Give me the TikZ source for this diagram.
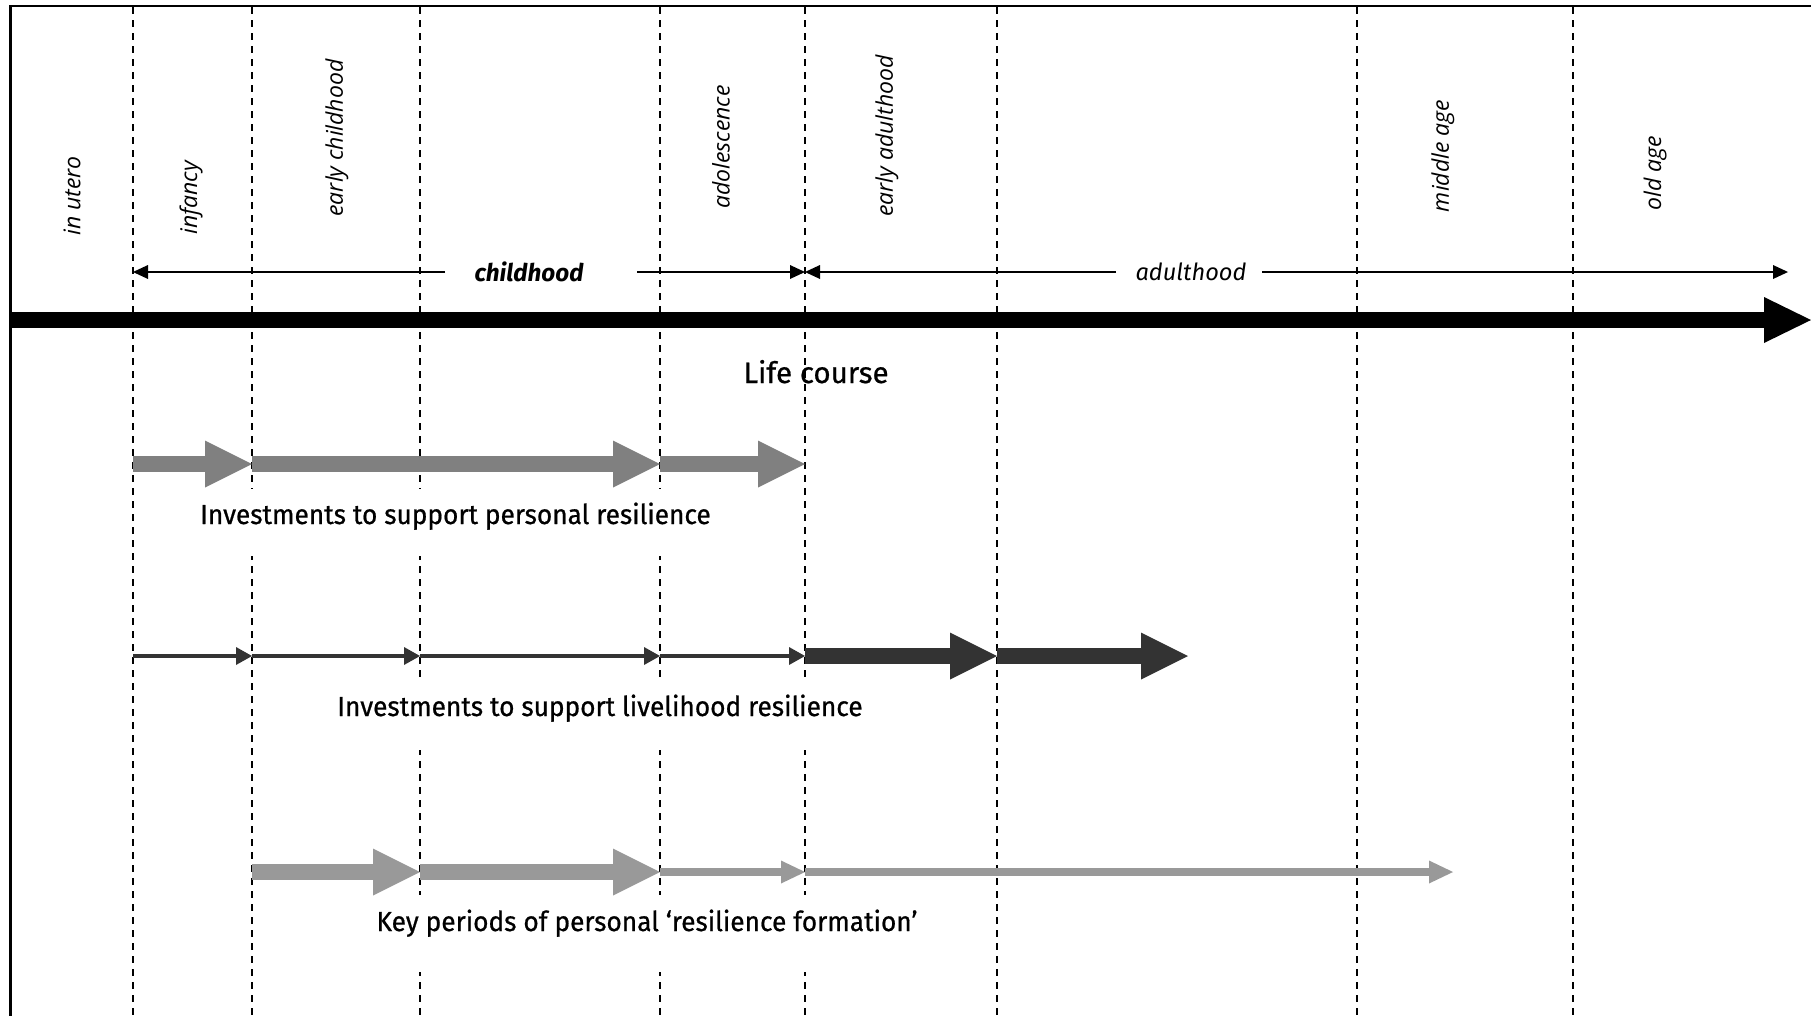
\documentclass[tikz,border=0pt]{standalone}
\usepackage{fontspec}
\setmainfont{Fira Sans}
\newfontfamily\agefont{Open Sans}
\newfontfamily\rowfont[FakeStretch=0.955,FakeBold=0.7]{Fira Sans}
\newfontfamily\lifefont[FakeBold=0.7]{Fira Sans}
\usetikzlibrary{arrows.meta}
\definecolor{cA}{HTML}{808080}
\definecolor{cB}{HTML}{333333}
\definecolor{cC}{HTML}{999999}
\begin{document}
\begin{tikzpicture}[x=1pt,y=-1pt,
  vline/.style={line width=2pt, dash pattern=on 7pt off 6pt},
  agelab/.style={rotate=90, inner sep=0pt, font=\agefont\itshape\fontsize{23}{28}\selectfont},
  spanlab/.style={inner sep=0pt, font=\itshape\fontsize{23.6}{29}\selectfont},
  childlab/.style={inner sep=0pt, font=\bfseries\itshape\fontsize{24.3}{29}\selectfont},
  rowlab/.style={inner sep=0pt, anchor=base, font=\rowfont\fontsize{27.5}{33}\selectfont},
  lifelab/.style={inner sep=0pt, anchor=base, font=\lifefont\fontsize{29.5}{35}\selectfont},
  spanarr/.style={line width=2pt, -{Triangle[length=15pt,width=14pt,line width=0pt]}},
  blk/.style={line width=16pt, -{Triangle[length=47pt,width=47pt,line width=0pt]}},
  thinarr/.style={line width=4.5pt, -{Triangle[length=16pt,width=18pt,line width=0pt]}},
  midarr/.style={line width=8.5pt, -{Triangle[length=24pt,width=23pt,line width=0pt]}},
  mainarr/.style={line width=16pt, -{Triangle[length=47pt,width=46pt,line width=0pt]}},
  mask/.style={fill=white}
]
\useasboundingbox (0,0) rectangle (1811,1015);
% frame
\draw[line width=2.6pt] (10.5,1016) -- (10.5,6) -- (1812,6);
% period boundaries
\foreach \n/\x in {1/133,2/252,3/420,4/660,5/805,6/997,7/1357,8/1573}{
  \coordinate (B\n) at (\x,7);
  \coordinate (E\n) at (\x,1016);
}
\foreach \n in {1,...,8}{\draw[vline] (B\n) -- (E\n);}
% white areas behind the row labels
\fill[mask] (190,489) rectangle (725,556);
\fill[mask] (330,679) rectangle (870,750);
\fill[mask] (365,895) rectangle (930,972);
% age labels
\node[agelab] (ut) at (72,196) {in utero};
\node[agelab] (inf) at (191,198) {infancy};
\node[agelab] (ech) at (337,138) {early childhood};
\node[agelab] (ado) at (721,147) {adolescence};
\node[agelab] (ead) at (887,136) {early adulthood};
\node[agelab] (mid) at (1443,156) {middle age};
\node[agelab] (old) at (1655,173) {old age};
% childhood / adulthood spans
\node[childlab] (child) at (529,272) {childhood};
\coordinate (c1) at (445,272);
\coordinate (c2) at (637,272);
\draw[spanarr] (c1) -- (B1|-c1);
\draw[spanarr] (c2) -- (B5|-c2);
\node[spanlab] (adult) at (1191,272) {adulthood};
\coordinate (a1) at (1116,272);
\coordinate (a2) at (1262,272);
\coordinate (a3) at (1788,272);
\draw[spanarr] (a1) -- (B5|-a1);
\draw[spanarr] (a2) -- (a3);
% life course arrow
\coordinate (L0) at (10,320);
\coordinate (L1) at (1811,320);
\draw[mainarr] (L0) -- (L1);
\node[lifelab] (life) at (816,383) {Life course};
% rows
\coordinate (R1) at (0,464);
\coordinate (R2) at (0,656);
\coordinate (R3) at (0,872);
\coordinate (T2) at (1188,656);
\coordinate (T3) at (1453,872);
% row 1
\draw[blk,cA] (B1|-R1) -- (B2|-R1);
\draw[blk,cA] (B2|-R1) -- (B4|-R1);
\draw[blk,cA] (B4|-R1) -- (B5|-R1);
\node[rowlab] (lab1) at (455.5,524) {Investments to support personal resilience};
% row 2
\draw[thinarr,cB] (B1|-R2) -- (B2|-R2);
\draw[thinarr,cB] (B2|-R2) -- (B3|-R2);
\draw[thinarr,cB] (B3|-R2) -- (B4|-R2);
\draw[thinarr,cB] (B4|-R2) -- (B5|-R2);
\draw[blk,cB] (B5|-R2) -- (B6|-R2);
\draw[blk,cB] (B6|-R2) -- (T2);
\node[rowlab] (lab2) at (600,716) {Investments to support livelihood resilience};
% row 3
\draw[blk,cC] (B2|-R3) -- (B3|-R3);
\draw[blk,cC] (B3|-R3) -- (B4|-R3);
\draw[midarr,cC] (B4|-R3) -- (B5|-R3);
\draw[midarr,cC] (B5|-R3) -- (T3);
\node[rowlab] (lab3) at (647,931) {Key periods of personal ‘resilience formation’};
\end{tikzpicture}
\end{document}
